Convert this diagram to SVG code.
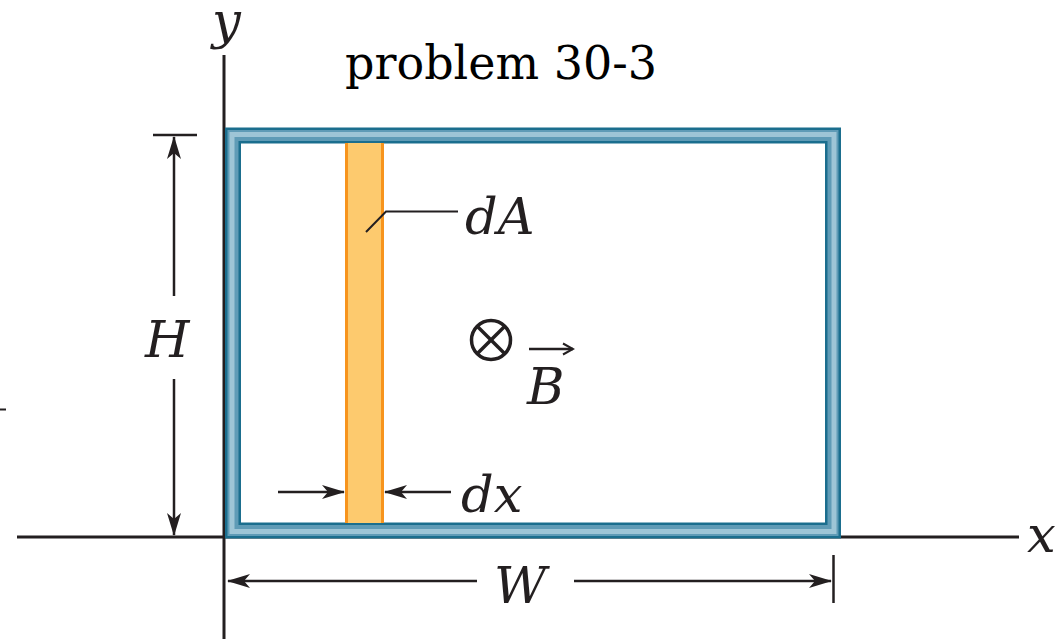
<svg xmlns="http://www.w3.org/2000/svg" width="1059" height="639" viewBox="0 0 1059 639">
<style>
.ax{stroke:#231f20;stroke-width:3;fill:none}
.dim{stroke:#231f20;stroke-width:2.5;fill:none}
.lbl{font-family:"DejaVu Serif",serif;font-style:italic;font-size:51px;fill:#231f20}
.ttl{font-family:"DejaVu Serif",serif;font-size:46px;fill:#000}
</style>
<defs>
<marker id="ah" markerUnits="userSpaceOnUse" markerWidth="24" markerHeight="14" refX="22" refY="7" orient="auto">
<path d="M0,0 L23,7 L0,14 L6,7 z" fill="#231f20"/>
</marker>
<marker id="vec" markerUnits="userSpaceOnUse" markerWidth="14" markerHeight="14" refX="12" refY="7" orient="auto">
<path d="M2,1.5 L12,7 L2,12.5" fill="none" stroke="#231f20" stroke-width="2"/>
</marker>
</defs>
<rect width="1059" height="639" fill="#fff"/>
<text class="ttl" x="345" y="79">problem 30-3</text>
<g id="axes">
<line class="ax" x1="224" y1="55" x2="224" y2="639"/>
<line class="ax" x1="17" y1="537" x2="1019" y2="537"/>
<line x1="0" y1="409.5" x2="6" y2="409.5" stroke="#231f20" stroke-width="2"/>
<text class="lbl" x="212" y="38">y</text>
<text class="lbl" x="1027" y="552">x</text>
</g>
<g id="loop">
<rect x="233" y="135.5" width="600" height="395" fill="none" stroke="#1b6e8e" stroke-width="16"/>
<rect x="233" y="135.5" width="600" height="395" fill="none" stroke="#5f9bb6" stroke-width="11"/>
<rect x="232" y="134.5" width="602" height="397" fill="none" stroke="#9ec5d6" stroke-width="5"/>
</g>
<g id="strip">
<rect x="346" y="143" width="37" height="380" fill="#fdca6e"/>
<line x1="346.5" y1="143" x2="346.5" y2="523" stroke="#f7941d" stroke-width="3"/>
<line x1="382.5" y1="143" x2="382.5" y2="523" stroke="#f7941d" stroke-width="3"/>
</g>
<g id="field">
<circle cx="491" cy="340" r="19.5" fill="none" stroke="#231f20" stroke-width="3.5"/>
<line x1="477.2" y1="326.2" x2="504.8" y2="353.8" stroke="#231f20" stroke-width="3.5"/>
<line x1="504.8" y1="326.2" x2="477.2" y2="353.8" stroke="#231f20" stroke-width="3.5"/>
<line x1="529" y1="349" x2="573" y2="349" stroke="#231f20" stroke-width="2.5" marker-end="url(#vec)"/>
<text class="lbl" x="527" y="404">B</text>
</g>
<g id="connectors">
<line class="dim" x1="153" y1="135" x2="197" y2="135" stroke-width="3"/>
<line class="dim" x1="174" y1="296" x2="174" y2="137" marker-end="url(#ah)"/>
<line class="dim" x1="174" y1="379" x2="174" y2="535" marker-end="url(#ah)"/>
<line class="dim" x1="477" y1="581" x2="228" y2="581" marker-end="url(#ah)"/>
<line class="dim" x1="574" y1="581" x2="831" y2="581" marker-end="url(#ah)"/>
<line class="dim" x1="833.5" y1="555" x2="833.5" y2="603" stroke-width="3"/>
<line class="dim" x1="278" y1="492" x2="344" y2="492" marker-end="url(#ah)"/>
<line class="dim" x1="451" y1="492" x2="385" y2="492" marker-end="url(#ah)"/>
<polyline points="366,232 386,211.5 458,211.5" fill="none" stroke="#231f20" stroke-width="2"/>
</g>
<g id="labels">
<text class="lbl" x="145" y="357">H</text>
<text class="lbl" x="494" y="603">W</text>
<text class="lbl" x="465" y="234">dA</text>
<text class="lbl" x="461" y="512">dx</text>
</g>
</svg>
